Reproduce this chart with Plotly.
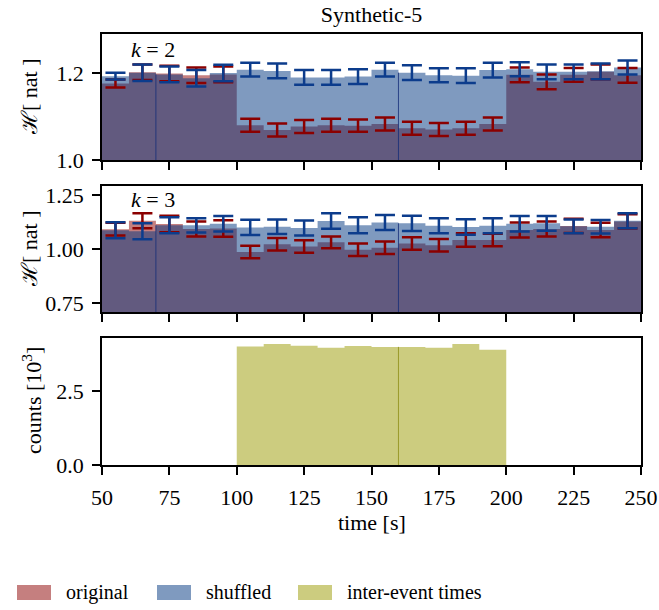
import plotly.graph_objects as go

# ---------------- data ----------------
bin_edges = [50, 60, 70, 80, 90, 100, 110, 120, 130, 140, 150,
             160, 170, 180, 190, 200, 210, 220, 230, 240, 250]
bin_centers = [55, 65, 75, 85, 95, 105, 115, 125, 135, 145,
               155, 165, 175, 185, 195, 205, 215, 225, 235, 245]

k2_original = [1.176, 1.202, 1.199, 1.195, 1.197, 1.080, 1.069, 1.077, 1.080, 1.079,
               1.083, 1.073, 1.070, 1.073, 1.083, 1.196, 1.180, 1.196, 1.203, 1.195]
k2_original_err = [0.009, 0.018, 0.018, 0.018, 0.018, 0.015, 0.015, 0.015, 0.015, 0.014,
                   0.015, 0.015, 0.015, 0.015, 0.015, 0.017, 0.017, 0.016, 0.017, 0.017]
k2_shuffled = [1.193, 1.201, 1.197, 1.188, 1.200, 1.208, 1.205, 1.190, 1.190, 1.192,
               1.208, 1.201, 1.195, 1.194, 1.207, 1.209, 1.203, 1.203, 1.204, 1.213]
k2_shuffled_err = [0.008, 0.019, 0.018, 0.019, 0.019, 0.016, 0.017, 0.017, 0.017, 0.017,
                   0.016, 0.017, 0.016, 0.017, 0.017, 0.016, 0.017, 0.017, 0.018, 0.016]

k3_original = [1.092, 1.131, 1.116, 1.093, 1.095, 0.986, 1.022, 1.012, 1.031, 0.997,
               1.006, 1.025, 1.017, 1.042, 1.042, 1.088, 1.093, 1.107, 1.088, 1.128]
k3_original_err = [0.030, 0.035, 0.038, 0.035, 0.038, 0.029, 0.029, 0.029, 0.027, 0.029,
                   0.029, 0.029, 0.029, 0.031, 0.029, 0.035, 0.035, 0.033, 0.034, 0.033]
k3_shuffled = [1.087, 1.082, 1.110, 1.110, 1.117, 1.100, 1.103, 1.097, 1.130, 1.110,
               1.123, 1.119, 1.108, 1.102, 1.108, 1.117, 1.119, 1.105, 1.103, 1.131]
k3_shuffled_err = [0.037, 0.037, 0.037, 0.033, 0.036, 0.035, 0.034, 0.035, 0.036, 0.037,
                   0.035, 0.035, 0.035, 0.036, 0.035, 0.036, 0.034, 0.032, 0.031, 0.035]

count_edges = [100, 110, 120, 130, 140, 150, 160, 170, 180, 190, 200]
counts_1e3 = [4.00, 4.09, 4.03, 3.96, 4.02, 3.99, 3.99, 3.96, 4.09, 3.89]

x_ticks = [50, 75, 100, 125, 150, 175, 200, 225, 250]
k2_yticks = [1.0, 1.2]
k3_yticks = [0.75, 1.00, 1.25]
count_yticks = [0.0, 2.5]

series_names = ["original", "shuffled", "inter-event times"]
title_text = "Synthetic-5"
ylabel_H = "ℋ[ nat ]"
ylabel_counts = "counts [10<sup>3</sup>]"
xlabel = "time [s]"

# ---------------- style ----------------
FONT = "Liberation Serif"
RED_FILL = "rgba(139,0,0,0.5)"
BLUE_FILL = "rgba(0,53,127,0.5)"
OLIVE_FILL = "rgba(153,153,0,0.5)"
RED_ERR = "#8b0000"
BLUE_ERR = "#0c3c8c"
EDGE_BLUE = "rgba(20,45,120,0.8)"
EDGE_OLIVE = "rgba(140,140,20,0.8)"

W, H = 659, 610
L, R, T, B = 102, 18, 34, 145
plot_w = W - L - R
plot_h = H - T - B
BOTTOM_PX = H - B


def py(px):  # page pixel y -> paper y
    return (BOTTOM_PX - px) / plot_h


def px_x(px):  # page pixel x -> paper x
    return (px - L) / plot_w


fig = go.Figure()


def step_hist(xa, ya, edges, values, fill, name):
    # histogram bars drawn as one stepped filled outline (no seams between bins)
    fig.add_trace(go.Scatter(x=edges, y=list(values) + [values[-1]], mode="lines",
                             line=dict(shape="hv", width=0, color=fill),
                             fill="tozeroy", fillcolor=fill, name=name,
                             showlegend=False, hoverinfo="skip", xaxis=xa, yaxis=ya))


def add_entropy_panel(xa, ya, orig, orig_err, shuf, shuf_err, base, edge_marks):
    step_hist(xa, ya, bin_edges, orig, RED_FILL, series_names[0])
    step_hist(xa, ya, bin_edges, shuf, BLUE_FILL, series_names[1])
    for e in edge_marks:
        i = bin_edges.index(e)
        fig.add_trace(go.Scatter(x=[e, e], y=[base, shuf[i]], mode="lines",
                                 line=dict(color=EDGE_BLUE, width=1),
                                 showlegend=False, hoverinfo="skip", xaxis=xa, yaxis=ya))
    fig.add_trace(go.Scatter(x=bin_centers, y=orig, mode="markers",
                             marker=dict(size=0.1, opacity=0),
                             error_y=dict(type="data", array=orig_err, color=RED_ERR,
                                          thickness=2.5, width=10),
                             showlegend=False, hoverinfo="skip", xaxis=xa, yaxis=ya))
    fig.add_trace(go.Scatter(x=bin_centers, y=shuf, mode="markers",
                             marker=dict(size=0.1, opacity=0),
                             error_y=dict(type="data", array=shuf_err, color=BLUE_ERR,
                                          thickness=2.5, width=10),
                             showlegend=False, hoverinfo="skip", xaxis=xa, yaxis=ya))


add_entropy_panel("x", "y", k2_original, k2_original_err, k2_shuffled, k2_shuffled_err,
                  1.0, [70, 160])
add_entropy_panel("x2", "y2", k3_original, k3_original_err, k3_shuffled, k3_shuffled_err,
                  0.708, [70, 160])

step_hist("x3", "y3", count_edges, counts_1e3, OLIVE_FILL, series_names[2])
fig.add_trace(go.Scatter(x=[160, 160], y=[0, counts_1e3[count_edges.index(160)]],
                         mode="lines", line=dict(color=EDGE_OLIVE, width=1),
                         showlegend=False, hoverinfo="skip", xaxis="x3", yaxis="y3"))

TICK_SIZE = 22
axis_common = dict(showline=True, linecolor="black", linewidth=1.8, mirror=True,
                   ticks="outside", ticklen=8, tickwidth=1.6, tickcolor="black",
                   showgrid=False, zeroline=False, automargin=False,
                   ticklabelstandoff=4,
                   tickfont=dict(family=FONT, size=TICK_SIZE, color="black"))
xcommon = dict(axis_common, range=[50, 250], tickvals=x_ticks)


def dom(top_px, bot_px):
    return [py(bot_px), py(top_px)]


annotations = [
    dict(text="<i>k</i> = 2", xref="x domain", yref="y domain", x=0.05, y=0.88,
         xanchor="left", yanchor="middle", showarrow=False,
         font=dict(family=FONT, size=22, color="black")),
    dict(text="<i>k</i> = 3", xref="x2 domain", yref="y2 domain", x=0.05, y=0.89,
         xanchor="left", yanchor="middle", showarrow=False,
         font=dict(family=FONT, size=22, color="black")),
    dict(text=ylabel_H, xref="paper", yref="paper", x=px_x(29), y=py(97),
         xanchor="center", yanchor="middle", textangle=-90, showarrow=False,
         font=dict(family=FONT, size=22, color="black")),
    dict(text=ylabel_H, xref="paper", yref="paper", x=px_x(29), y=py(249),
         xanchor="center", yanchor="middle", textangle=-90, showarrow=False,
         font=dict(family=FONT, size=22, color="black")),
    dict(text=ylabel_counts, xref="paper", yref="paper", x=px_x(32), y=py(401),
         xanchor="center", yanchor="middle", textangle=-90, showarrow=False,
         font=dict(family=FONT, size=22, color="black")),
    dict(text=xlabel, xref="paper", yref="paper", x=0.5, y=py(522),
         xanchor="center", yanchor="middle", showarrow=False,
         font=dict(family=FONT, size=22, color="black")),
]

legend_fills = [RED_FILL, BLUE_FILL, OLIVE_FILL]
legend_left_px = [17, 157, 298]
shapes = []
for name, fill, lx in zip(series_names, legend_fills, legend_left_px):
    shapes.append(dict(type="rect", xref="paper", yref="paper",
                       x0=px_x(lx), x1=px_x(lx + 34), y0=py(600), y1=py(585),
                       fillcolor=fill, line=dict(width=0), layer="above"))
    annotations.append(dict(text=name, xref="paper", yref="paper",
                            x=px_x(lx + 47), y=py(592), xanchor="left", yanchor="middle",
                            showarrow=False,
                            font=dict(family=FONT, size=20, color="black")))

fig.update_layout(
    width=W, height=H,
    margin=dict(l=L, r=R, t=T, b=B, autoexpand=False),
    paper_bgcolor="white", plot_bgcolor="white",
    showlegend=False,
    font=dict(family=FONT, size=22, color="black"),
    title=dict(text=title_text, x=371.5 / W, xanchor="center", xref="container",
               y=1 - 14 / H, yanchor="middle", yref="container",
               font=dict(family=FONT, size=22, color="black")),
    xaxis=dict(xcommon, domain=[0, 1], anchor="y", showticklabels=False),
    xaxis2=dict(xcommon, domain=[0, 1], anchor="y2", showticklabels=False),
    xaxis3=dict(xcommon, domain=[0, 1], anchor="y3"),
    yaxis=dict(axis_common, domain=dom(34, 160), anchor="x", range=[1.0, 1.29],
               tickvals=k2_yticks, ticktext=["1.0", "1.2"]),
    yaxis2=dict(axis_common, domain=dom(186, 312), anchor="x2", range=[0.708, 1.292],
                tickvals=k3_yticks, ticktext=["0.75", "1.00", "1.25"]),
    yaxis3=dict(axis_common, domain=dom(338, 465), anchor="x3", range=[0, 4.29],
                tickvals=count_yticks, ticktext=["0.0", "2.5"]),
    annotations=annotations,
    shapes=shapes,
)

fig.write_html("out.html", config={"displayModeBar": False},
               post_script="document.body.style.margin='0px';")
